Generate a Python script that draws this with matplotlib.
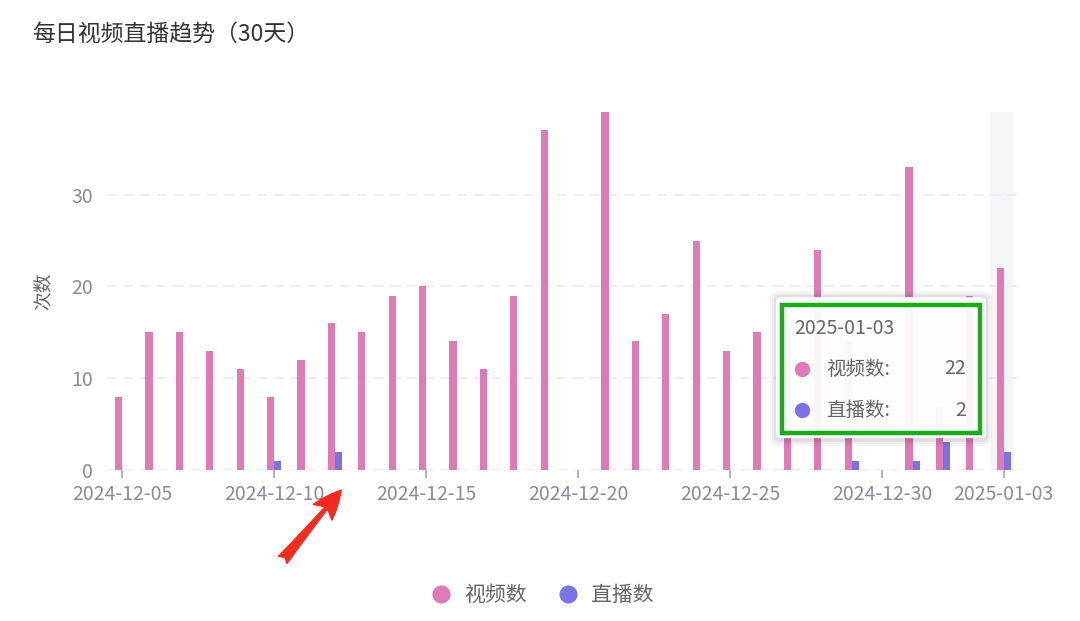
import numpy as np
import pandas as pd
import matplotlib
matplotlib.use("Agg")
import matplotlib.pyplot as plt
from matplotlib.patches import FancyBboxPatch, Rectangle, FancyArrowPatch
from matplotlib.lines import Line2D

plt.rcParams['font.family'] = ['Noto Sans CJK SC', 'DejaVu Sans']

# data
dates = pd.date_range('2024-12-05', '2025-01-03').strftime('%Y-%m-%d').tolist()
video_counts = [8, 15, 15, 13, 11, 8, 12, 16, 15, 19,
                20, 14, 11, 19, 37, 0, 39, 14, 17, 25,
                13, 15, 16, 24, 14, 0, 33, 7, 19, 22]
live_counts = [0, 0, 0, 0, 0, 1, 0, 2, 0, 0,
               0, 0, 0, 0, 0, 0, 0, 0, 0, 0,
               0, 0, 0, 0, 1, 0, 1, 3, 0, 2]
label_idx = [0, 5, 10, 15, 20, 25, 29]
series_names = ['视频数', '直播数']
title = '每日视频直播趋势（30天）'
tip_idx = 29

PINK = '#E07AB6'
PURPLE = '#7B72E6'
W, H = 1080, 621


def fx(x):
    return x / W


def fy(y):
    return 1 - y / H


fig = plt.figure(figsize=(10.8, 6.21), dpi=100)
ax = fig.add_axes([fx(107), fy(470), fx(1019) - fx(107), fy(112) - fy(470)])

x = np.arange(len(dates))
bw = 0.24

# hover shadow for the highlighted day
ax.axvspan(tip_idx - 0.42, tip_idx + 0.33, color='#F6F6F9', zorder=0, lw=0)

for v in [0, 10, 20, 30]:
    ax.axhline(v, color='#EAEAF4', lw=1.2, ls=(0, (6, 4)), zorder=1)

ax.bar(x - bw / 2, video_counts, width=bw, color=PINK, zorder=2)
ax.bar(x + bw / 2, live_counts, width=bw, color=PURPLE, zorder=2)

ax.set_xlim(-0.5, len(dates) - 0.5)
ax.set_ylim(0, 39)
ax.set_yticks([0, 10, 20, 30])
ax.set_xticks(label_idx)
ax.set_xticklabels([dates[i] for i in label_idx])
ax.tick_params(axis='x', length=6, width=1.2, color='#A5A5B5', pad=4,
               labelsize=14, labelcolor='#8A8AA3')
ax.tick_params(axis='y', length=0, pad=10, labelsize=14, labelcolor='#8C8C8C')
for s in ax.spines.values():
    s.set_visible(False)
ax.set_ylabel('次数', fontsize=13.5, color='#666666', labelpad=13)

fig.text(fx(32), fy(34), title, fontsize=16.5, color='#333333', va='center', ha='left')

handles = [Line2D([], [], marker='o', ls='', color=PINK, markersize=12),
           Line2D([], [], marker='o', ls='', color=PURPLE, markersize=12)]
fig.legend(handles, series_names, loc='center', bbox_to_anchor=(fx(542), fy(595)),
           ncol=2, frameon=False, fontsize=15, labelcolor='#666666',
           handlelength=1.0, handletextpad=0.6, columnspacing=1.5)

# tooltip box
for i, a in enumerate([0.03, 0.04, 0.05]):
    g = 6 - i * 2
    fig.patches.append(FancyBboxPatch((fx(776 - g), fy(440 + g)), fx(210 + 2 * g), fy(297 - g) - fy(440 + g),
                                      boxstyle='round,pad=0,rounding_size=0.008',
                                      transform=fig.transFigure, fc='black', ec='none', alpha=a, zorder=5))
fig.patches.append(FancyBboxPatch((fx(776), fy(438)), fx(210), fy(297) - fy(438),
                                  boxstyle='round,pad=0,rounding_size=0.006',
                                  transform=fig.transFigure, fc='white', ec='none', alpha=0.95, zorder=6))
fig.patches.append(Rectangle((fx(782), fy(433)), fx(198), fy(305) - fy(433),
                             transform=fig.transFigure, fc='none', ec='#1DAA1D', lw=3.2, zorder=7))
fig.text(fx(794), fy(329), dates[tip_idx], fontsize=14, color='#666666', va='center', zorder=8)
rows = [(video_counts[tip_idx], PINK, 369), (live_counts[tip_idx], PURPLE, 410)]
for (val, col, yy), name in zip(rows, series_names):
    fig.add_artist(Line2D([fx(802)], [fy(yy)], marker='o', color=col, markersize=10,
                          transform=fig.transFigure, zorder=8))
    fig.text(fx(826), fy(yy), name + ':', fontsize=14, color='#666666', va='center', zorder=8)
    fig.text(fx(966), fy(yy), str(val), fontsize=14, color='#666666', va='center', ha='right', zorder=8)

# red arrow
arrow = FancyArrowPatch((fx(281), fy(562)), (fx(343), fy(488)), transform=fig.transFigure,
                        arrowstyle='fancy,head_length=1.3,head_width=1.1,tail_width=0.5',
                        color='#F42A1E', mutation_scale=16, zorder=9)
fig.patches.append(arrow)

fig.savefig('out.png', dpi=100, facecolor='white')
